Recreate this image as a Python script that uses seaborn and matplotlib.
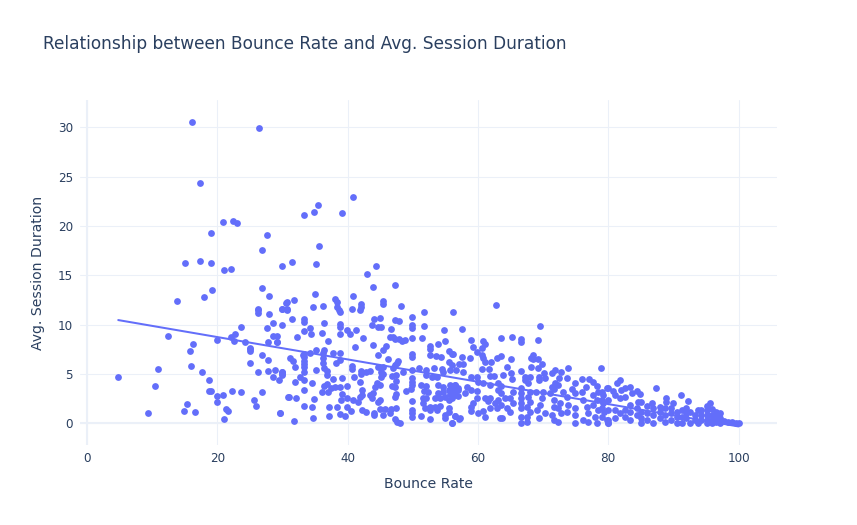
import matplotlib
matplotlib.use("Agg")
import matplotlib.pyplot as plt
import seaborn as sns

TITLE = "Relationship between Bounce Rate and Avg. Session Duration"
X_LABEL = "Bounce Rate"
Y_LABEL = "Avg. Session Duration"
x_ticks = [0, 20, 40, 60, 80, 100]
y_ticks = [0, 5, 10, 15, 20, 25, 30]
trend_x = [4.8, 100.0]
trend_y = [10.48, -0.3]

bounce_rate = [
 16.1,26.4,17.4,35.4,34.9,33.3,20.8,22.4,23.0,19.0,27.7,26.9,35.6,15.1,17.3,19.0,30.0,31.5,35.1,21.0,22.1,
 26.9,28.0,19.2,17.9,13.8,30.5,29.9,30.7,26.3,26.3,26.3,28.0,28.5,27.6,30.0,23.7,22.7,22.1,22.6,20.0,12.4,24.2,28.5,29.2,27.8,29.2,16.2,15.8,25.0,25.0,25.0,
 26.8,27.8,25.0,16.0,10.9,17.6,26.3,27.8,28.8,30.0,30.0,28.5,29.4,4.8,18.7,10.5,18.7,19.0,22.2,23.7,26.9,20.0,20.8,30.9,25.6,20.0,26.0,15.3,14.9,16.6,9.3,21.4,21.7,29.6,21.0,
 42.9,40.9,35.0,31.8,30.7,30.0,30.7,34.7,36.3,38.1,38.4,38.4,38.7,38.8,40.7,42.1,42.0,41.9,31.5,33.3,33.3,36.4,38.8,38.8,34.3,33.3,34.4,36.1,38.8,39.9,40.4,41.3,42.3,32.2,37.0,41.1,35.2,36.4,37.7,38.9,34.2,33.2,29.1,
 47.3,43.9,45.4,45.4,48.2,51.7,56.2,49.9,44.1,45.0,47.3,47.9,49.9,49.9,51.8,43.8,44.7,45.2,46.6,54.8,46.5,46.9,47.3,47.9,48.3,48.8,49.9,51.4,54.9,53.8,52.6,52.6,43.9,45.9,45.4,44.7,49.9,49.9,52.6,53.5,54.3,55.5,56.1,
 36.3,36.3,36.3,36.4,33.3,33.3,33.3,33.3,33.3,33.3,31.1,31.6,38.8,38.2,46.2,55.5,56.0,47.8,47.6,47.3,31.9,40.7,40.7,44.7,45.5,47.0,35.2,36.8,36.8,42.0,42.8,43.4,42.0,45.2,45.2,45.5,29.9,29.9,
 48.5,49.9,51.0,52.1,53.3,54.5,54.7,55.7,56.7,46.8,47.4,41.0,32.7,33.3,37.7,39.1,49.9,49.9,49.9,52.1,52.9,53.7,47.4,41.9,31.9,34.6,36.8,36.4,44.5,45.0,44.2,39.9,46.8,47.3,38.1,38.8,37.5,37.0,36.0,33.3,42.2,49.0,49.8,
 51.3,52.1,51.8,52.4,53.9,54.7,55.7,56.5,57.0,55.5,56.2,54.7,53.9,55.7,56.5,54.9,53.4,54.2,57.0,56.0,55.5,39.1,39.0,47.5,47.3,31.0,32.1,34.8,43.4,43.9,43.8,42.2,41.9,39.9,40.9,41.6,44.9,44.7,49.9,51.6,52.1,51.5,
 33.3,34.5,37.2,38.4,39.9,40.5,42.2,42.8,44.0,44.0,44.9,45.7,46.6,47.5,46.5,45.4,49.9,49.9,49.9,51.9,52.6,53.4,54.2,52.6,53.7,55.5,55.5,54.9,55.0,56.5,57.2,51.3,52.6,56.0,37.2,38.8,39.6,47.3,47.6,48.1,34.7,31.7,29.6,
 40.9,39.2,44.4,62.8,57.5,69.5,59.0,60.8,61.1,59.2,60.6,59.9,63.6,65.2,66.6,66.6,69.2,56.0,57.5,58.8,57.1,57.7,60.7,60.8,61.1,62.0,63.0,63.6,65.0,64.5,68.4,68.1,68.5,69.2,69.9,68.1,69.2,60.7,61.7,57.7,
 65.0,63.9,66.6,70.2,71.3,71.8,72.7,73.9,78.9,59.0,59.8,61.8,62.5,65.2,67.2,68.0,67.2,69.4,70.3,69.4,72.5,73.6,75.9,77.1,74.9,77.7,78.2,76.6,79.8,60.0,60.8,61.8,63.1,63.6,67.7,71.8,71.3,72.3,71.6,
 58.3,59.0,59.9,58.0,56.5,57.0,56.2,63.1,63.6,65.4,66.6,66.6,66.6,66.6,66.6,66.6,66.6,68.0,68.9,70.0,71.0,73.1,74.4,74.9,75.9,77.7,78.5,79.2,59.9,61.1,61.8,63.1,64.1,64.9,65.4,59.3,61.5,62.6,63.6,
 67.7,68.0,67.5,68.0,67.5,67.6,69.8,69.5,69.0,70.3,69.3,71.6,72.6,71.6,72.3,71.3,71.6,72.3,72.8,73.7,73.9,73.6,74.9,74.9,74.9,76.2,76.7,76.9,76.2,76.9,78.2,77.7,78.5,77.95,78.2,79.2,79.3,79.8,80.0,
 59.0,58.9,60.0,60.8,61.1,61.8,62.9,63.4,63.7,64.9,64.4,56.5,57.1,55.96,
 81.8,81.4,83.3,82.6,82.0,87.4,80.0,80.7,84.4,84.9,83.6,91.2,88.8,88.8,89.9,92.2,95.6,95.1,81.0,81.8,82.6,80.0,83.3,84.6,85.1,86.7,85.9,79.0,79.0,79.0,79.0,80.0,80.0,80.0,
 81.0,81.8,81.0,82.6,82.6,83.3,83.3,84.4,85.1,84.4,85.1,85.1,85.9,85.9,86.9,86.9,86.9,88.0,88.0,88.0,88.7,88.7,88.7,89.7,89.7,89.7,90.5,90.5,90.5,91.3,91.3,91.3,92.0,92.0,92.0,92.5,92.5,
 93.3,93.3,93.8,93.8,94.3,94.3,94.3,95.1,95.1,95.1,95.1,95.9,95.9,95.9,95.9,96.6,96.6,96.6,97.2,97.2,97.2,97.8,98.4,99.0,99.6,100.0,
]
session_duration = [
 30.6,29.95,24.4,22.1,21.4,21.1,20.45,20.5,20.3,19.3,19.1,17.6,18.0,16.3,16.5,16.3,16.0,16.4,16.2,15.55,15.65,
 13.7,12.9,13.55,12.8,12.45,12.2,11.6,11.6,11.65,11.45,11.2,11.1,10.2,9.7,9.95,9.8,9.07,8.8,8.35,8.5,8.87,8.25,8.9,8.83,8.26,8.26,8.08,7.38,7.68,7.5,7.3,
 6.9,6.4,6.1,5.8,5.52,5.22,5.25,5.35,5.42,5.22,5.0,4.68,4.38,4.71,4.44,3.77,3.32,3.32,3.32,3.19,3.19,2.82,2.89,2.72,2.35,2.15,1.8,1.94,1.23,1.2,1.07,1.5,1.3,1.03,0.46,
 15.1,12.9,13.1,12.55,12.3,11.6,11.55,11.8,11.9,12.65,12.35,11.85,11.55,11.25,11.6,12.1,11.8,11.45,10.6,10.55,10.3,10.15,10.05,9.75,9.7,9.37,9.04,9.2,9.07,9.44,9.1,9.47,8.7,8.8,8.4,7.72,7.45,7.45,7.1,7.1,7.1,6.94,8.3,
 14.06,13.83,12.44,12.1,11.9,11.33,11.33,10.75,10.55,10.65,10.48,10.42,9.98,9.64,9.91,9.98,9.81,9.74,9.57,9.47,8.8,8.73,8.53,8.53,8.36,8.49,8.66,8.66,8.36,8.05,7.88,7.58,7.92,7.82,7.41,6.94,7.0,6.7,6.97,6.84,6.77,7.34,7.07,
 7.1,6.6,6.1,5.59,7.04,6.7,6.36,6.03,5.69,5.25,6.6,6.36,6.43,6.1,6.5,6.26,5.93,6.36,6.1,5.93,5.69,5.82,5.55,5.69,5.69,5.59,5.42,5.35,4.91,5.32,5.22,5.35,5.01,5.25,4.67,5.01,5.25,4.95,
 5.25,5.42,5.59,5.42,5.65,5.52,5.25,5.42,5.42,4.84,4.88,4.68,4.68,4.4,4.54,4.57,4.57,4.2,3.9,4.91,4.68,4.74,4.27,4.17,4.17,4.07,4.0,3.8,4.07,3.9,3.73,3.76,3.83,3.66,3.73,3.66,3.56,3.22,3.22,3.36,3.39,3.33,3.46,
 3.9,3.83,3.33,3.22,3.9,3.73,3.9,3.9,3.56,3.39,3.39,3.22,3.05,2.99,2.88,2.72,2.55,2.55,2.78,2.55,2.38,2.99,2.38,2.95,2.72,2.72,2.55,2.48,2.88,3.12,2.55,2.88,2.65,2.58,2.38,2.14,2.38,2.21,2.28,2.55,2.55,2.04,
 1.77,1.64,1.67,1.7,1.64,1.26,1.37,1.16,1.1,0.86,1.5,1.47,1.47,1.57,1.1,0.86,1.37,1.03,0.69,1.53,1.7,1.7,1.77,1.37,1.37,1.53,1.2,0.86,0.52,0.79,0.52,0.76,0.45,0.05,0.76,0.96,0.76,0.45,0.18,0.05,0.52,0.3,1.03,
 22.9,21.3,16.0,12.04,9.61,9.85,8.46,8.4,8.06,7.72,7.62,7.28,8.63,8.73,8.57,8.23,8.5,7.05,6.74,6.61,6.03,6.03,6.94,6.61,6.27,6.24,6.67,6.81,6.57,5.76,6.94,6.67,6.54,6.5,6.03,5.76,5.66,5.49,5.53,5.19,
 5.09,4.95,5.29,5.15,5.09,5.42,5.19,5.66,5.63,4.68,4.68,4.82,4.82,4.51,4.68,4.75,4.41,4.75,4.58,4.41,4.58,4.58,4.51,4.51,4.14,4.17,3.84,3.74,3.57,4.24,4.07,3.9,4.07,3.8,4.07,4.07,3.74,3.9,3.53,
 3.74,3.4,3.33,3.13,3.9,3.4,3.06,3.4,3.13,3.23,3.57,3.06,2.55,2.05,1.54,0.7,0.02,3.23,3.23,3.23,3.13,3.16,3.5,3.06,3.23,2.89,3.23,2.89,2.55,2.55,2.55,2.38,2.55,2.55,2.05,2.1,2.28,2.05,1.88,
 2.72,2.22,1.71,1.2,0.7,0.19,2.55,1.88,1.37,1.03,0.53,2.38,2.05,1.71,1.54,0.86,0.36,0.19,1.03,2.72,1.88,1.2,1.54,0.86,0.02,2.38,1.71,1.03,0.36,0.19,2.38,1.88,1.37,0.7,0.02,2.05,1.2,0.36,0.02,
 1.64,1.3,1.1,1.3,0.7,1.54,1.54,0.53,0.53,1.2,1.54,0.77,0.43,0.09,
 4.41,4.1,3.73,3.57,3.4,3.63,3.57,3.33,3.33,2.99,3.06,2.86,2.55,2.21,2.05,2.28,2.05,1.78,2.89,2.55,2.72,2.38,1.88,2.21,2.21,2.05,1.78,3.23,2.38,1.54,0.7,1.37,0.36,0.02,
 1.37,1.03,0.53,1.37,0.7,1.2,0.36,1.54,1.2,0.86,0.53,0.0,1.03,0.36,1.54,0.86,0.0,1.71,1.2,0.53,1.54,0.86,0.2,1.54,1.03,0.36,1.2,0.7,0.02,1.37,0.7,0.02,1.54,1.03,0.53,1.2,0.02,
 0.86,0.36,1.37,0.0,1.37,0.86,0.36,1.37,0.86,0.36,0.0,1.44,0.86,0.36,0.0,1.2,0.7,0.2,1.03,0.53,0.0,0.3,0.2,0.1,0.0,0.0,
]

GRID = "#EBF0F8"
TEXT = "#2a3f5f"
MARK = "#636efa"

sns.set_style("white")
plt.rcParams["font.family"] = ["DejaVu Sans"]

fig = plt.figure(figsize=(8.57, 5.25), dpi=100)
ax = fig.add_axes([80 / 857, 80 / 525, 697 / 857, 345 / 525])

n = min(len(bounce_rate), len(session_duration))
print(len(bounce_rate), len(session_duration))
sns.scatterplot(x=bounce_rate[:n], y=session_duration[:n], ax=ax, s=24, color=MARK,
                linewidth=0, zorder=3, clip_on=False)
sns.lineplot(x=trend_x, y=trend_y, ax=ax, color=MARK, linewidth=1.45, zorder=4, errorbar=None)

ax.set_xlim(-1.07, 105.9)
ax.set_ylim(-2.18, 32.78)
ax.set_xticks(x_ticks)
ax.set_yticks(y_ticks)
ax.grid(True, color=GRID, linewidth=0.75, zorder=0)
ax.set_axisbelow(True)
ax.axhline(0, color=GRID, linewidth=1.5, zorder=1)
ax.axvline(0, color=GRID, linewidth=1.5, zorder=1)
for s in ax.spines.values():
    s.set_visible(False)
ax.tick_params(length=0, labelsize=8.64, labelcolor=TEXT, pad=5)
ax.set_xlabel(X_LABEL, fontsize=10.08, color=TEXT, labelpad=9)
ax.set_ylabel(Y_LABEL, fontsize=10.08, color=TEXT, labelpad=9)
fig.text(43 / 857, 1 - 44 / 525, TITLE, fontsize=12.24, color=TEXT, ha="left", va="center")

fig.savefig("out.png", dpi=100)
